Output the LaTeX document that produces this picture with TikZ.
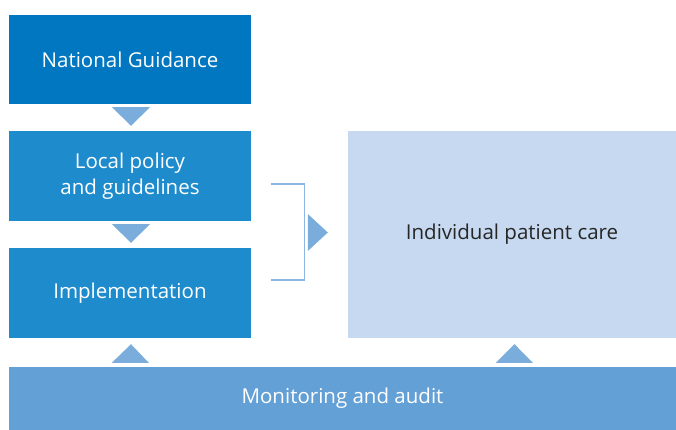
\documentclass[tikz,border=0pt]{standalone}
\usepackage{fontspec}
\setmainfont{Open Sans}
\usepackage{tikz}
\usetikzlibrary{calc}

\definecolor{natblue}{RGB}{0,119,192}
\definecolor{stepblue}{RGB}{30,139,205}
\definecolor{tripblue}{RGB}{122,173,220}
\definecolor{carepale}{RGB}{198,217,240}
\definecolor{audblue}{RGB}{99,160,214}
\definecolor{brackblue}{RGB}{141,182,227}

\begin{document}
\begin{tikzpicture}[x=1pt,y=-1pt,
  box/.style={rectangle,inner sep=0pt,align=center,text=white,
    font=\fontsize{20.5}{26}\selectfont},
  tri/.style={fill=tripblue}]
\useasboundingbox (0,0) rectangle (676,430);
% boxes
\node[box,fill=natblue,minimum width=242pt,minimum height=89pt] (nat) at (130,59.5) {National Guidance};
\node[box,fill=stepblue,minimum width=242pt,minimum height=90pt] (loc) at (130,176) {Local policy\\and guidelines};
\node[box,fill=stepblue,minimum width=242pt,minimum height=90pt] (imp) at (130,293) {Implementation};
\node[box,fill=carepale,text=black!85,minimum width=328pt,minimum height=207pt] (ind) at (512,234.5) {Individual patient care};
\node[box,fill=audblue,minimum width=667pt,minimum height=63pt] (mon) at (342.5,398.5) {Monitoring and audit};
% arrow heads
\fill[tri] ($(nat.south)+(-18,3)$) -- ++(38,0) -- ($(loc.north)+(1,-5)$) -- cycle;
\fill[tri] ($(loc.south)+(-18,3)$) -- ++(38,0) -- ($(imp.north)+(1,-5)$) -- cycle;
\fill[tri] ($(mon.north west)+(103,-4)$) -- ++(37,0) -- ($(imp.south)+(1,6)$) -- cycle;
\fill[tri] ($(mon.north west)+(487,-4)$) -- ++(37,0) -- ($(ind.south)+(2.5,6)$) -- cycle;
\fill[tri] ($(ind.west)+(-40,-20.5)$) -- ++(0,37) -- ($(ind.west)+(-20,-2)$) -- cycle;
% bracket
\draw[brackblue,line width=1.3pt] ($(loc.east)+(20,8)$) -| ($(imp.east)+(53,-13)$) -- ($(imp.east)+(20,-13)$);
\end{tikzpicture}
\end{document}
